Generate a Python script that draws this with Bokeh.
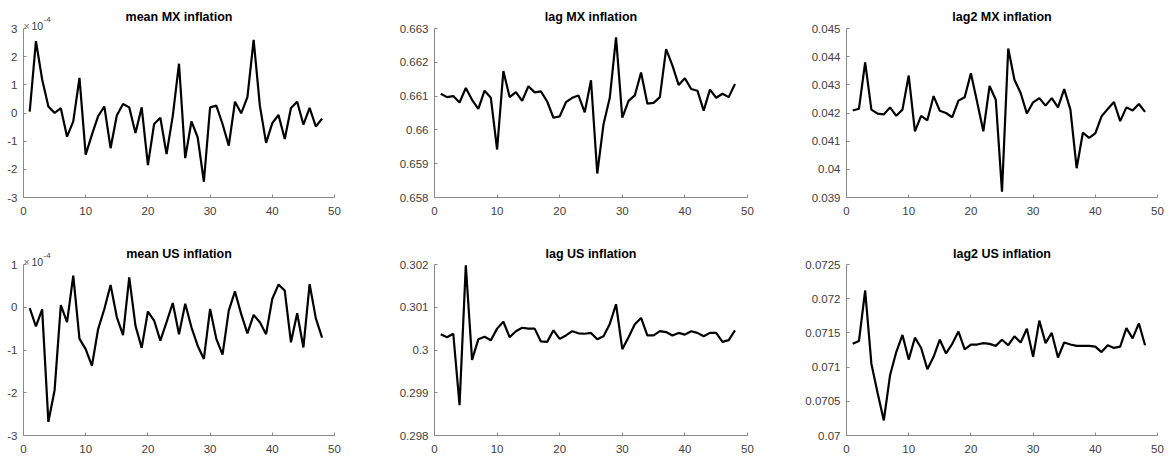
from bokeh.plotting import figure
from bokeh.layouts import column, row
from bokeh.models import Range1d, FixedTicker, Label
from bokeh.embed import file_html
from bokeh.resources import INLINE

steps = list(range(1, 49))

# mean MX inflation (units of 1e-4)
mean_mx = [0.05, 2.55, 1.19, 0.23, 0.0, 0.17, -0.84, -0.3, 1.25, -1.48,
           -0.77, -0.11, 0.23, -1.25, -0.09, 0.32, 0.2, -0.71, 0.2, -1.85,
           -0.39, -0.17, -1.46, -0.1, 1.75, -1.6, -0.3, -0.86, -2.44, 0.2,
           0.26, -0.39, -1.16, 0.4, -0.01, 0.56, 2.6, 0.26, -1.06, -0.36,
           -0.07, -0.92, 0.18, 0.4, -0.41, 0.18, -0.48, -0.2]

lag_mx = [0.66107, 0.66097, 0.66100, 0.66081, 0.66124, 0.66089, 0.66062, 0.66116,
          0.66095, 0.65942, 0.66174, 0.66097, 0.66112, 0.66086, 0.66129, 0.66111,
          0.66114, 0.66084, 0.66036, 0.66040, 0.66082, 0.66095, 0.66102, 0.66052,
          0.66147, 0.65871, 0.66017, 0.66095, 0.66274, 0.66036, 0.66086, 0.66102,
          0.66170, 0.66078, 0.66080, 0.66097, 0.66239, 0.66191, 0.66133, 0.66153,
          0.66121, 0.66116, 0.66057, 0.66119, 0.66095, 0.66107, 0.66097, 0.66136]

lag2_mx = [0.04209, 0.04215, 0.04380, 0.04212, 0.04198, 0.04195, 0.04220, 0.04190,
           0.04212, 0.04333, 0.04135, 0.04190, 0.04174, 0.04260, 0.04208, 0.04200,
           0.04185, 0.04244, 0.04256, 0.04341, 0.04239, 0.04135, 0.04296, 0.04247,
           0.03921, 0.04429, 0.04318, 0.04271, 0.04198, 0.04238, 0.04253, 0.04226,
           0.04253, 0.04220, 0.04285, 0.04212, 0.04004, 0.04130, 0.04112, 0.04128,
           0.04188, 0.04214, 0.04239, 0.04171, 0.04220, 0.04209, 0.04232, 0.04204]

# mean US inflation (units of 1e-4)
mean_us = [-0.02, -0.45, -0.05, -2.68, -1.94, 0.05, -0.35, 0.74, -0.74, -0.98,
           -1.37, -0.51, -0.04, 0.52, -0.23, -0.65, 0.70, -0.43, -0.95, -0.10,
           -0.31, -0.78, -0.35, 0.10, -0.63, 0.08, -0.47, -0.90, -1.21, -0.04,
           -0.74, -1.11, -0.08, 0.37, -0.16, -0.61, -0.18, -0.35, -0.63, 0.20,
           0.53, 0.39, -0.82, -0.14, -0.94, 0.54, -0.26, -0.71]

lag_us = [0.30037, 0.30030, 0.30038, 0.29871, 0.30198, 0.29977, 0.30025, 0.30031,
          0.30023, 0.30050, 0.30066, 0.30030, 0.30044, 0.30052, 0.30050, 0.30050,
          0.30020, 0.30019, 0.30046, 0.30026, 0.30034, 0.30044, 0.30039, 0.30038,
          0.30040, 0.30025, 0.30032, 0.30061, 0.30107, 0.30002, 0.30030, 0.30060,
          0.30075, 0.30034, 0.30034, 0.30044, 0.30042, 0.30034, 0.30040, 0.30036,
          0.30044, 0.30040, 0.30032, 0.30040, 0.30040, 0.30019, 0.30023, 0.30046]

lag2_us = [0.07134, 0.07138, 0.07212, 0.07105, 0.07062, 0.07022, 0.07088, 0.07122,
           0.07147, 0.07111, 0.07143, 0.07128, 0.07097, 0.07115, 0.07140, 0.07120,
           0.07134, 0.07152, 0.07126, 0.07133, 0.07133, 0.07135, 0.07134, 0.07131,
           0.07140, 0.07132, 0.07145, 0.07136, 0.07156, 0.07115, 0.07168, 0.07135,
           0.07150, 0.07114, 0.07136, 0.07133, 0.07131, 0.07131, 0.07131, 0.07130,
           0.07122, 0.07132, 0.07128, 0.07130, 0.07157, 0.07142, 0.07164, 0.07132]

titles = ["mean MX inflation", "lag MX inflation", "lag2 MX inflation",
          "mean US inflation", "lag US inflation", "lag2 US inflation"]
series = [mean_mx, lag_mx, lag2_mx, mean_us, lag_us, lag2_us]
y_ticks = [[-3, -2, -1, 0, 1, 2, 3],
           [0.658, 0.659, 0.660, 0.661, 0.662, 0.663],
           [0.039, 0.040, 0.041, 0.042, 0.043, 0.044, 0.045],
           [-3, -2, -1, 0, 1],
           [0.298, 0.299, 0.300, 0.301, 0.302],
           [0.0700, 0.0705, 0.0710, 0.0715, 0.0720, 0.0725]]
y_labels = [["-3", "-2", "-1", "0", "1", "2", "3"],
            ["0.658", "0.659", "0.66", "0.661", "0.662", "0.663"],
            ["0.039", "0.04", "0.041", "0.042", "0.043", "0.044", "0.045"],
            ["-3", "-2", "-1", "0", "1"],
            ["0.298", "0.299", "0.3", "0.301", "0.302"],
            ["0.07", "0.0705", "0.071", "0.0715", "0.072", "0.0725"]]
x_ticks = [0, 10, 20, 30, 40, 50]
x_min, x_max = 0, 50
has_exp = [True, False, False, True, False, False]

FONT = "Liberation Sans"
AXC = "#8a8a8a"
LBC = "#404040"

# layout in pixels
col_w = [380, 410, 385]
col_left = [23, 54, 56]
col_frame = [311, 313, 311]
row_h = [230, 227]
row_pad = [28, 34]      # space between figure top and top tick (inside frame)
row_plot = [169, 171]   # pixels between bottom and top ticks
title_off = [12, 11]

figs = []
for i in range(6):
    r, c = divmod(i, 3)
    yt = y_ticks[i]
    span = yt[-1] - yt[0]
    y_top = yt[-1] + span * row_pad[r] / row_plot[r]
    p = figure(width=col_w[c], height=row_h[r], output_backend="svg",
               toolbar_location=None,
               x_range=Range1d(x_min, x_max), y_range=Range1d(yt[0], y_top),
               min_border_left=col_left[c],
               min_border_right=col_w[c] - col_left[c] - col_frame[c],
               min_border_top=0,
               min_border_bottom=row_h[r] - row_pad[r] - row_plot[r])
    p.line(steps, series[i], line_color="black", line_width=2.2)
    p.outline_line_color = None
    p.grid.visible = False
    p.background_fill_color = "white"
    p.border_fill_color = "white"
    p.yaxis.ticker = FixedTicker(ticks=yt)
    p.yaxis.bounds = (yt[0], yt[-1])
    p.yaxis.major_label_overrides = {t: l for t, l in zip(yt, y_labels[i])}
    p.xaxis.ticker = FixedTicker(ticks=x_ticks)
    for ax in (p.xaxis, p.yaxis):
        ax.axis_line_color = AXC
        ax.axis_line_width = 1
        ax.major_tick_line_color = AXC
        ax.major_tick_in = 3
        ax.major_tick_out = 0
        ax.minor_tick_line_color = None
        ax.major_label_text_font = FONT
        ax.major_label_text_font_size = "11.5px"
        ax.major_label_text_color = LBC
    p.xaxis.major_label_standoff = 9
    p.yaxis.major_label_standoff = 6
    # title (drawn inside the frame's top padding)
    p.add_layout(Label(x=(x_min + x_max) / 2, y=yt[-1], text=titles[i],
                       y_offset=title_off[r], text_align="center",
                       text_baseline="middle", text_font=FONT,
                       text_font_style="bold", text_font_size="12.5px",
                       text_color="black"))
    if has_exp[i]:
        p.add_layout(Label(x=x_min, y=yt[-1], text="\u00d7", x_offset=0, y_offset=3,
                           text_font=FONT, text_font_size="10.5px",
                           text_color="#707070", text_baseline="alphabetic", text_align="left"))
        p.add_layout(Label(x=x_min, y=yt[-1], text="10", x_offset=8, y_offset=3,
                           text_font=FONT, text_font_size="10.5px",
                           text_color=LBC, text_baseline="alphabetic", text_align="left"))
        p.add_layout(Label(x=x_min, y=yt[-1], text="-4", x_offset=20, y_offset=9,
                           text_font=FONT, text_font_size="8px",
                           text_color=LBC, text_baseline="alphabetic", text_align="left"))
    figs.append(p)

layout = column(row(*figs[0:3]), row(*figs[3:6]))
open("out.html", "w").write(file_html(layout, INLINE))
